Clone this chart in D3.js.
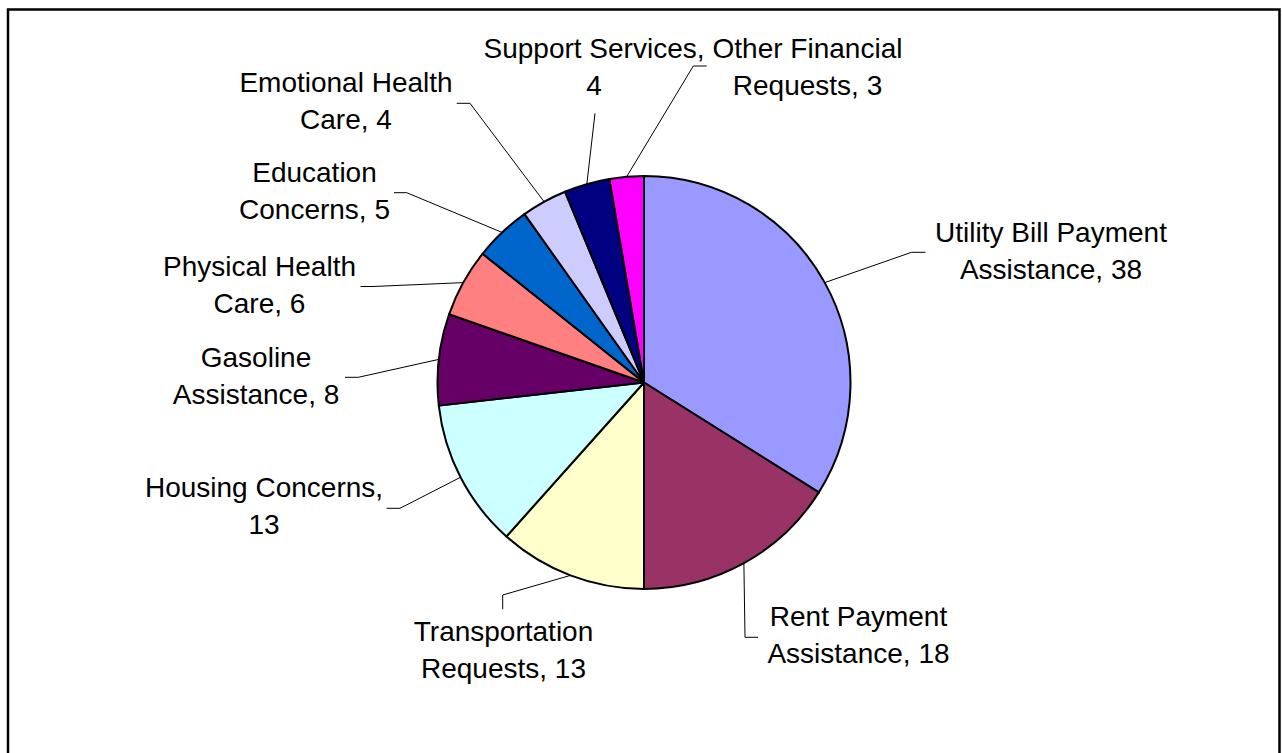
<!DOCTYPE html>
<html>
<head>
<meta charset="utf-8">
<script src="https://cdn.jsdelivr.net/npm/d3@7"></script>
<style>
  html, body { margin: 0; padding: 0; background: #fff; }
  svg { display: block; }
  text { font-family: "Liberation Sans", Arial, sans-serif; font-size: 28px; fill: #000; }
</style>
</head>
<body>
<svg id="chart" width="1282" height="753"></svg>
<script>
// ---- data ----
const categories = [
  "Utility Bill Payment Assistance",
  "Rent Payment Assistance",
  "Transportation Requests",
  "Housing Concerns",
  "Gasoline Assistance",
  "Physical Health Care",
  "Education Concerns",
  "Emotional Health Care",
  "Support Services",
  "Other Financial Requests"
];
const values = [38, 18, 13, 13, 8, 6, 5, 4, 4, 3];
const colors = ["#9999FF", "#993366", "#FFFFCC", "#CCFFFF", "#660066",
                "#FF8080", "#0066CC", "#CCCCFF", "#000080", "#FF00FF"];
// number of words on the first label line
const wordsOnFirstLine = [3, 2, 1, 2, 1, 2, 1, 2, 2, 2];

// ---- layout (label anchors and leader elbows) ----
const labelLayout = [
  { x: 1051, y: 241.5, elbow: [911.5, 252.3], end: [925.5, 252.3] },
  { x: 858.5, y: 626, elbow: [745, 637.3], end: [758, 637.3] },
  { x: 503.5, y: 640.7, elbow: [502.7, 595], end: [502.7, 609.3] },
  { x: 264, y: 496.7, elbow: [400, 508.3], end: [386.7, 508.3] },
  { x: 256, y: 366.7, elbow: [358.3, 377.3], end: [345, 377.3] },
  { x: 259.5, y: 276, elbow: [373, 286.5], end: [360.5, 286.5] },
  { x: 314.5, y: 182.3, elbow: [406.7, 192.7], end: [394, 192.7] },
  { x: 346, y: 92, elbow: [470, 103.3], end: [456.7, 103.3] },
  { x: 594, y: 58, elbow: [595, 113.3], end: [595, 113.3] },
  { x: 807.5, y: 58, elbow: [693.3, 66], end: [706.7, 66] }
];
const lineGap = 37;

const W = 1282, H = 753;
const cx = 644, cy = 382.5, R = 206.5;

const svg = d3.select("#chart");

// frame
svg.append("rect")
  .attr("x", 8).attr("y", 9.5)
  .attr("width", 1271.5).attr("height", 800)
  .attr("fill", "#fff")
  .attr("stroke", "#000").attr("stroke-width", 2.5);

const data = categories.map((c, i) => ({ cat: c, value: values[i], color: colors[i], i }));

const pie = d3.pie().value(d => d.value).sort(null);
const arcs = pie(data);
const arc = d3.arc().innerRadius(0).outerRadius(R);

const g = svg.append("g").attr("transform", `translate(${cx},${cy})`);

g.selectAll("path.slice")
  .data(arcs)
  .join("path")
  .attr("class", "slice")
  .attr("d", arc)
  .attr("fill", d => d.data.color)
  .attr("stroke", "#000")
  .attr("stroke-width", 2)
  .attr("stroke-linejoin", "round");

// leader lines
const leaders = svg.append("g");
arcs.forEach((a, i) => {
  const mid = (a.startAngle + a.endAngle) / 2;
  const sx = cx + R * Math.sin(mid);
  const sy = cy - R * Math.cos(mid);
  const L = labelLayout[i];
  leaders.append("path")
    .attr("d", d3.line()([[sx, sy], L.elbow, L.end]))
    .attr("fill", "none")
    .attr("stroke", "#000")
    .attr("stroke-width", 1);
});

// labels
const labels = svg.append("g");
arcs.forEach((a, i) => {
  const full = `${a.data.cat}, ${a.data.value}`;
  const words = full.split(" ");
  const n = wordsOnFirstLine[i];
  const lines = [words.slice(0, n).join(" "), words.slice(n).join(" ")];
  const L = labelLayout[i];
  const t = labels.append("text")
    .attr("text-anchor", "middle");
  lines.forEach((ln, k) => {
    t.append("tspan").attr("x", L.x).attr("y", L.y + k * lineGap).text(ln);
  });
});
</script>
</body>
</html>
